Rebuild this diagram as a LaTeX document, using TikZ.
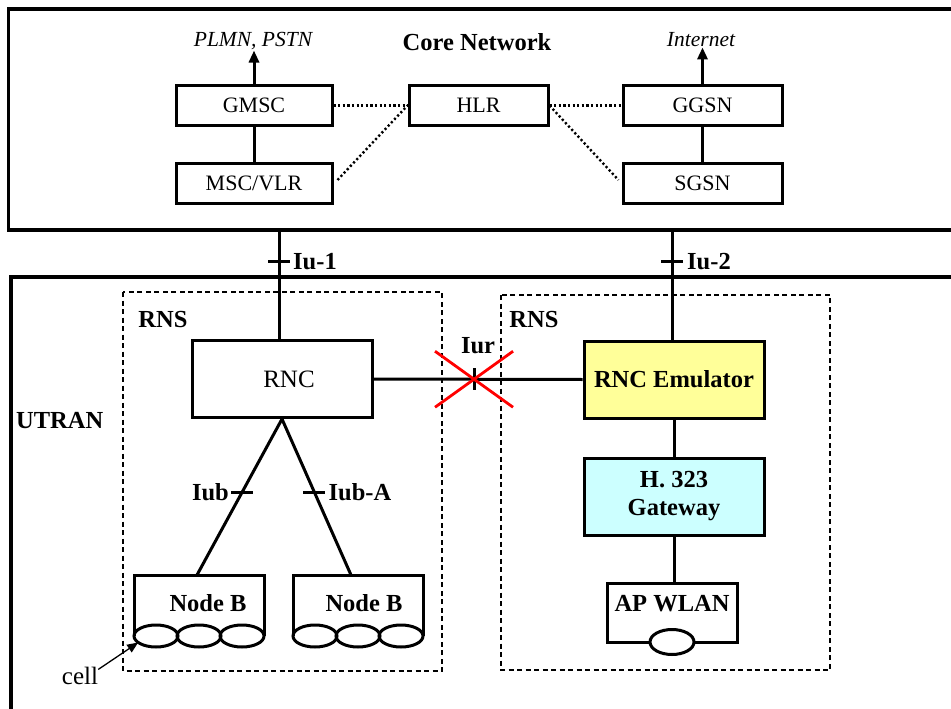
\documentclass[tikz,border=0pt]{standalone}
\usepackage{fontspec}
\setmainfont{Liberation Serif}
\usetikzlibrary{arrows.meta,shapes.geometric}
\definecolor{emuyellow}{HTML}{FFFF99}
\definecolor{gwcyan}{HTML}{CCFFFF}
\tikzset{
  frame/.style={line width=3.5pt},
  corebox/.style={draw, line width=3pt, minimum width=156pt, minimum height=39pt,
    inner sep=0pt, font=\fontsize{22}{26}\selectfont},
  link/.style={line width=3pt},
  dotlink/.style={line width=2.4pt, dash pattern=on 2.2pt off 2.4pt},
  rnsframe/.style={line width=1.6pt, dash pattern=on 5pt off 3.5pt},
  bigbox/.style={draw, line width=3pt, minimum width=180pt, minimum height=77pt, inner sep=0pt},
  boldlbl/.style={font=\fontsize{24.5}{28}\selectfont\bfseries, inner sep=0pt},
  reglbl/.style={font=\fontsize{25}{28}\selectfont, inner sep=0pt},
  itlbl/.style={font=\fontsize{21.5}{24}\selectfont\itshape, inner sep=0pt},
  holder/.style={inner sep=0pt, outer sep=0pt},
  cellshape/.style={draw, ellipse, line width=3pt, inner sep=0pt, outer sep=0pt,
    minimum width=44pt, minimum height=22pt},
  outline/.style={line width=3pt},
  uparrow/.style={link, -{Triangle[length=12pt,width=10pt]}},
  redx/.style={line width=2.8pt, red},
}
\begin{document}
\begin{tikzpicture}[x=1pt,y=-1pt]
\useasboundingbox (0,0) rectangle (951,709);

% ---------- core network ----------
\draw[frame] (951,9) -- (8.5,9) -- (8.5,230) -- (951,230);
\node[boldlbl] (core) at (477,42) {Core Network};

\node[corebox] (gmsc) at (254,105.5) {GMSC};
\node[corebox, minimum height=40pt] (msc) at (254,183) {MSC/VLR};
\node[corebox, minimum width=139pt] (hlr) at (478.5,105.5) {HLR};
\node[corebox, minimum width=159pt] (ggsn) at (702.5,105.5) {GGSN};
\node[corebox, minimum width=159pt, minimum height=40pt] (sgsn) at (702.5,183) {SGSN};

\node[itlbl, anchor=base] (pstn) at (253,47) {PLMN, PSTN};
\node[itlbl, anchor=base] (inet) at (701,47) {Internet};
\draw[uparrow] (gmsc.north) -- (gmsc.north |- pstn.south);
\draw[uparrow] (ggsn.north) -- (ggsn.north |- inet.south);

\draw[link] (gmsc) -- (msc);
\draw[link] (ggsn) -- (sgsn);
\draw[dotlink] (gmsc.east) -- (hlr.west);
\draw[dotlink] ([xshift=4pt,yshift=3pt]msc.east) -- (hlr.west);
\draw[dotlink] (hlr.east) -- (ggsn.west);
\draw[dotlink] (hlr.east) -- ([xshift=-3pt,yshift=3pt]sgsn.west);

% ---------- UTRAN ----------
\draw[frame] (951,277) -- (11,277) -- (11,709);
\node[boldlbl, anchor=west] (utran) at (16,421) {UTRAN};

\draw[rnsframe] (123,292) rectangle (442,671);
\draw[rnsframe] (501,295) rectangle (830,670);
\node[boldlbl] (rnsl) at (163,320) {RNS};
\node[boldlbl] (rnsr) at (534,320) {RNS};

\node[bigbox, font=\fontsize{25}{28}\selectfont] (rnc) at (282,379) {\hspace*{14pt}RNC};
\node[bigbox, fill=emuyellow, font=\fontsize{24.5}{28}\selectfont\bfseries] (emu) at (674,379.5) {RNC Emulator};
\node[bigbox, fill=gwcyan, align=center, font=\fontsize{24.5}{28}\selectfont\bfseries] (gw) at (674,496.5) {H. 323\\Gateway};

% Iu interfaces
\coordinate (iu1) at (279,230);
\coordinate (iu2) at (672,230);
\draw[link] (iu1) -- (iu1 |- rnc.north) coordinate[pos=0.285] (iu1t);
\draw[link] (iu2) -- (iu2 |- emu.north) coordinate[pos=0.285] (iu2t);
\draw[link] ([xshift=-11pt]iu1t) -- ([xshift=11pt]iu1t);
\draw[link] ([xshift=-11pt]iu2t) -- ([xshift=11pt]iu2t);
\node[boldlbl, anchor=west] (iu1lbl) at ([xshift=14pt]iu1t) {Iu-1};
\node[boldlbl, anchor=west] (iu2lbl) at ([xshift=15pt]iu2t) {Iu-2};

% Iur interface, crossed out
\draw[link] (rnc.east) -- (emu.west) coordinate[pos=0.481] (iurt);
\draw[link] ([yshift=11pt]iurt) -- ([yshift=-11pt]iurt);
\draw[redx] ([shift={(-39,-28)}]iurt) -- ([shift={(39,28)}]iurt);
\draw[redx] ([shift={(-39,28)}]iurt) -- ([shift={(39,-28)}]iurt);
\node[boldlbl] (iurlbl) at ([shift={(4,-34)}]iurt) {Iur};

% Node B units
\node[holder, minimum width=130pt, minimum height=61pt] (nb1) at (199,605.5) {};
\node[holder, minimum width=130pt, minimum height=61pt] (nb2) at (358,605.5) {};
\draw[outline] (nb1.south west) -- (nb1.north west) -- (nb1.north east) -- (nb1.south east);
\draw[outline] (nb2.south west) -- (nb2.north west) -- (nb2.north east) -- (nb2.south east);
\node[boldlbl] (nb1lbl) at (208,603) {Node B};
\node[boldlbl] (nb2lbl) at (364,603) {Node B};
\node[cellshape] (nb1c1) at ([xshift=22pt]nb1.south west) {};
\node[cellshape] (nb1c2) at (nb1.south) {};
\node[cellshape] (nb1c3) at ([xshift=-22pt]nb1.south east) {};
\node[cellshape] (nb2c1) at ([xshift=22pt]nb2.south west) {};
\node[cellshape] (nb2c2) at (nb2.south) {};
\node[cellshape] (nb2c3) at ([xshift=-22pt]nb2.south east) {};

% Iub interfaces
\draw[link] (rnc.south) -- ([xshift=-2pt]nb1.north) coordinate[pos=0.47] (iubt);
\draw[link] (rnc.south) -- ([xshift=-7pt]nb2.north) coordinate[pos=0.47] (iubat);
\draw[link] ([xshift=-11pt]iubt) -- ([xshift=11pt]iubt);
\draw[link] ([xshift=-11pt]iubat) -- ([xshift=11pt]iubat);
\node[boldlbl, anchor=east] (iublbl) at ([xshift=-13pt]iubt) {Iub};
\node[boldlbl, anchor=west] (iubalbl) at ([xshift=14pt]iubat) {Iub-A};

% cell pointer
\node[reglbl, anchor=base] (cell) at (80,684) {cell};
\draw[line width=1.3pt, -{Triangle[length=11pt,width=9pt]}] ([yshift=-3pt]cell.north east) -- (nb1c1.200);

% WLAN access point
\draw[link] (emu) -- (gw);
\node[holder, minimum width=130pt, minimum height=59pt] (ap) at (672,612.5) {};
\draw[link] (gw.south) -- (gw.south |- ap.north);
\node[cellshape, minimum height=25pt] (apcell) at (ap.south) {};
\draw[outline] (apcell.west) -- (ap.south west) -- (ap.north west) -- (ap.north east) -- (ap.south east) -- (apcell.east);
\node[boldlbl] (aplbl) at (672,604) {AP WLAN};
\end{tikzpicture}
\end{document}
